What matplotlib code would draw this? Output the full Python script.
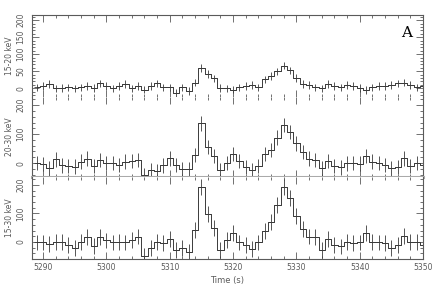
import numpy as np
import matplotlib
matplotlib.use("Agg")
import matplotlib.pyplot as plt
from matplotlib.ticker import MultipleLocator, FormatStrFormatter

# 1-s bins, bin centres
time = np.arange(5289, 5351)

# counts per bin
rate_15_20 = [2, 6, 12, -1, 1, 2, -1, 2, 6, 1,
              14, 6, -1, 6, 12, -1, 6, -4, 6, 14,
              2, 2, -14, 2, -8, 16, 59, 42, 29, 0,
              -1, -4, 2, 6, 9, 2, 26, 36, 49, 66,
              52, 30, 12, 9, 2, -1, 12, 6, 2, 9,
              6, 0, -6, 2, 6, 6, 9, 14, 16, 9,
              2, 5]
rate_20_30 = [0, -3, -18, 13, -8, -10, -12, 5, 15, -10,
              10, 1, 1, -6, 5, 8, 10, -41, -24, -28,
              -8, 16, -7, -22, -22, 28, 137, 56, 24, -24,
              0, 31, 7, -13, -24, -10, 31, 45, 88, 131,
              108, 68, 39, 15, 10, -18, 8, -10, -15, -1,
              0, -2, 25, 5, 0, -7, -18, -13, 16, -10,
              1, -5]
rate_15_30 = [-2, -2, -8, 0, 0, -11, -22, 1, 16, -14,
              16, 5, -2, 1, -2, 7, 19, -51, -22, 0,
              -5, 9, -28, -20, -37, 42, 194, 97, 48, -30,
              7, 30, -2, -11, -26, -2, 38, 71, 130, 192,
              155, 91, 44, 19, 16, -28, 9, -11, -16, 1,
              -5, -2, 30, 1, -2, -5, -22, -11, 21, 1,
              1, -10]

err_15_20 = 11
err_20_30 = 25
err_15_30 = 28

labels = ["15-20 keV", "20-30 keV", "15-30 keV"]
series = [rate_15_20, rate_20_30, rate_15_30]
errors = [err_15_20, err_20_30, err_15_30]
ylims = [(-26, 215), (-48, 228), (-60, 228)]
ymajor = [50, 100, 100]
yminor = [10, 20, 20]

col = "#3a3a3a"
tcol = "#5a5a5a"

fig = plt.figure(figsize=(4.36, 3.0), dpi=100)
W, H = 436.0, 300.0
left, right = 32 / W, 423 / W
edges = [15, 97, 177, 259]

axes = []
for i in range(3):
    y0 = 1 - edges[i + 1] / H
    h = (edges[i + 1] - edges[i]) / H
    ax = fig.add_axes([left, y0, right - left, h])
    axes.append(ax)

    y = np.array(series[i])
    ax.step(time, y, where="mid", color=col, lw=0.7)
    ax.errorbar(time, y, yerr=errors[i], xerr=0.5, fmt="none",
                ecolor=col, elinewidth=0.6, capsize=0)

    ax.set_xlim(5288.25, 5350)
    ax.set_ylim(*ylims[i])
    ax.xaxis.set_major_locator(MultipleLocator(10))
    ax.xaxis.set_minor_locator(MultipleLocator(2))
    ax.yaxis.set_major_locator(MultipleLocator(ymajor[i]))
    ax.yaxis.set_minor_locator(MultipleLocator(yminor[i]))
    ax.xaxis.set_major_formatter(FormatStrFormatter("%d"))
    ax.yaxis.set_major_formatter(FormatStrFormatter("%d"))

    ax.tick_params(which="both", direction="in", top=True, right=True,
                   color=tcol, labelcolor=tcol, width=0.6)
    ax.tick_params(which="major", length=5)
    ax.tick_params(which="minor", length=2.5)
    ax.tick_params(axis="y", labelsize=5.5, pad=5)
    ax.tick_params(axis="x", labelsize=5.5, pad=3)
    for lbl in ax.get_yticklabels():
        lbl.set_rotation(90)
        lbl.set_va("center")
        lbl.set_ha("right")
    if i < 2:
        ax.tick_params(axis="x", labelbottom=False)

    for s in ax.spines.values():
        s.set_color(tcol)
        s.set_linewidth(0.8)

    fig.text(9 / W, 1 - (edges[i] + edges[i + 1]) / 2 / H, labels[i],
             rotation=90, ha="center", va="center", fontsize=5.5, color=tcol)

# panel joins
axes[0].spines["bottom"].set_color("#cccccc")
axes[0].spines["bottom"].set_linewidth(0.5)
axes[1].spines["top"].set_visible(False)
axes[1].spines["bottom"].set_color("#aaaaaa")
axes[1].spines["bottom"].set_linewidth(2.2)
axes[2].spines["top"].set_visible(False)

axes[2].set_xlabel("Time (s)", fontsize=6, color=tcol, labelpad=3)

fig.text(407 / W, 1 - 33 / H, "A", fontsize=11, family="DejaVu Serif",
         ha="center", va="center", color="black")

fig.savefig("out.png", dpi=100)
